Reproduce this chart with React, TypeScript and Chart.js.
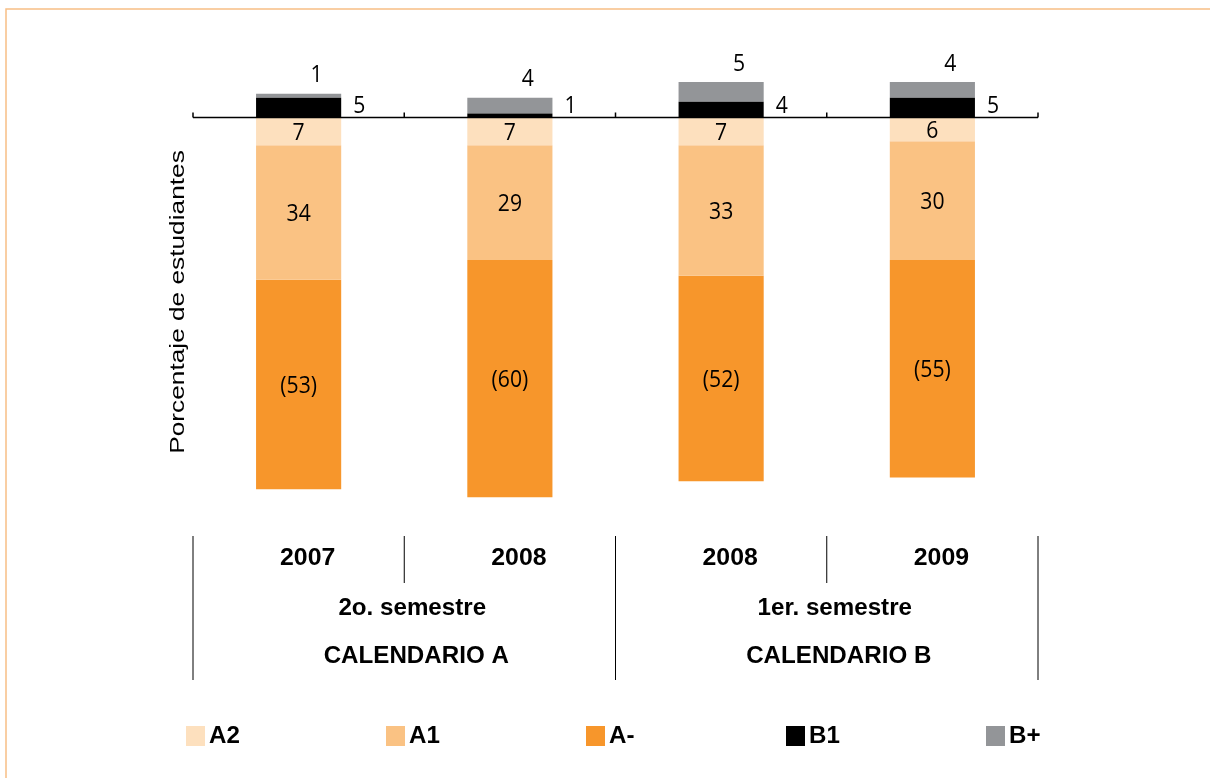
import React, { useEffect, useRef } from "react";
import { Chart, registerables } from "chart.js";

Chart.register(...registerables);

const categories = ["2007", "2008", "2008", "2009"];
const groupLabels = ["2o. semestre", "1er. semestre"];
const calendarLabels = ["CALENDARIO A", "CALENDARIO B"];
const seriesNames = ["A2", "A1", "A-", "B1", "B+"];
const seriesColors = ["#FDE0BE", "#FAC283", "#F7962B", "#000000", "#939598"];
const a2Values = [7, 7, 7, 6];
const a1Values = [34, 29, 33, 30];
const aMinusValues = [53, 60, 52, 55];
const b1Values = [5, 1, 4, 5];
const bPlusValues = [1, 4, 5, 4];

const LABEL_FONT = '23px "Open Sans", sans-serif';
const BOLD_FONT = 'bold 23px "Liberation Sans", Arial, sans-serif';
const LEGEND_FONT = 'bold 23px "Liberation Sans", Arial, sans-serif';
const TITLE_FONT = '21px "Liberation Sans", Arial, sans-serif';

function drawText(ctx: CanvasRenderingContext2D, text: string, x: number, y: number, font: string, sx: number, align: CanvasTextAlign = "center") {
  ctx.save();
  ctx.font = font;
  ctx.fillStyle = "#000";
  ctx.textBaseline = "middle";
  ctx.textAlign = align;
  ctx.translate(x, y);
  ctx.scale(sx, 1);
  ctx.fillText(text, 0, 0);
  ctx.restore();
}

const customPlugin = {
  id: "custom",
  beforeDraw(chart: any) {
    const ctx = chart.ctx as CanvasRenderingContext2D;
    ctx.save();
    ctx.fillStyle = "#fff";
    ctx.fillRect(0, 0, chart.width, chart.height);
    ctx.strokeStyle = "#F8BF85";
    ctx.lineWidth = 1.5;
    ctx.beginPath();
    ctx.moveTo(6, chart.height);
    ctx.lineTo(6, 9);
    ctx.lineTo(chart.width, 9);
    ctx.stroke();
    ctx.restore();
  },
  afterDatasetsDraw(chart: any) {
    const ctx = chart.ctx as CanvasRenderingContext2D;
    const area = chart.chartArea;
    const yScale = chart.scales.y;
    const xScale = chart.scales.x;
    const y0 = yScale.getPixelForValue(0);
    const n = categories.length;
    const cw = (area.right - area.left) / n;

    // zero axis line with tick marks
    ctx.save();
    ctx.strokeStyle = "#000";
    ctx.lineWidth = 1.5;
    ctx.beginPath();
    ctx.moveTo(area.left, y0);
    ctx.lineTo(area.right, y0);
    for (let i = 0; i <= n; i++) {
      const bx = area.left + i * cw;
      ctx.moveTo(bx, y0);
      ctx.lineTo(bx, y0 - 5);
    }
    ctx.stroke();
    ctx.restore();

    // data labels
    for (let d = 0; d < 5; d++) {
      const meta = chart.getDatasetMeta(d);
      meta.data.forEach((el: any, i: number) => {
        const raw = Math.abs(chart.data.datasets[d].data[i] as number);
        const text = d === 2 ? `(${raw})` : String(raw);
        const cy = (el.y + el.base) / 2;
        if (d <= 2) {
          drawText(ctx, text, el.x, cy + 2, LABEL_FONT, 0.92);
        } else if (d === 3) {
          drawText(ctx, text, el.x + el.width / 2 + 18, Math.min(cy, y0 - 11), LABEL_FONT, 0.92);
        } else {
          drawText(ctx, text, el.x + 18, el.y - 18, LABEL_FONT, 0.92);
        }
      });
    }

    // category labels underneath
    const top = area.bottom + 23;
    ctx.save();
    ctx.strokeStyle = "#000";
    ctx.lineWidth = 1;
    ctx.beginPath();
    for (let i = 0; i <= n; i++) {
      const bx = area.left + i * cw;
      ctx.moveTo(bx, top);
      ctx.lineTo(bx, i % 2 === 0 ? top + 144 : top + 47);
    }
    ctx.stroke();
    ctx.restore();
    categories.forEach((c, i) => {
      drawText(ctx, c, xScale.getPixelForValue(i) + 9, top + 23, BOLD_FONT, 1.08);
    });
    groupLabels.forEach((g, i) => {
      const gx = area.left + (i * 2 + 1) * cw + 8;
      drawText(ctx, g, gx, top + 73, BOLD_FONT, 1.05);
      drawText(ctx, calendarLabels[i], gx + 4, top + 121, BOLD_FONT, 1.05);
    });

    // legend
    seriesNames.forEach((name, i) => {
      const lx = area.left - 7 + i * 200;
      const ly = 726;
      ctx.save();
      ctx.fillStyle = seriesColors[i];
      ctx.fillRect(lx, ly, 19, 20);
      ctx.restore();
      drawText(ctx, name, lx + 23, ly + 11, LEGEND_FONT, 1.05, "left");
    });

    // y-axis title
    ctx.save();
    ctx.translate(area.left - 15, 302);
    ctx.rotate(-Math.PI / 2);
    ctx.scale(1.25, 1);
    ctx.font = TITLE_FONT;
    ctx.fillStyle = "#000";
    ctx.textAlign = "center";
    ctx.textBaseline = "middle";
    ctx.fillText("Porcentaje de estudiantes", 0, 0);
    ctx.restore();
  },
};

export default function App() {
  const canvasRef = useRef<HTMLCanvasElement | null>(null);

  useEffect(() => {
    if (!canvasRef.current) return;
    const makeDs = (i: number, values: number[], sign: number) => ({
      label: seriesNames[i],
      data: values.map((v) => v * sign),
      backgroundColor: seriesColors[i],
      borderWidth: 0,
      categoryPercentage: 1,
      barPercentage: 0.403,
      stack: "s",
    });
    const chart = new Chart(canvasRef.current, {
      type: "bar",
      data: {
        labels: categories,
        datasets: [
          makeDs(0, a2Values, -1),
          makeDs(1, a1Values, -1),
          makeDs(2, aMinusValues, -1),
          makeDs(3, b1Values, 1),
          makeDs(4, bPlusValues, 1),
        ],
      },
      options: {
        responsive: false,
        animation: false,
        layout: { padding: { left: 193, right: 172, top: 78, bottom: 265 } },
        scales: {
          x: { display: false, stacked: true },
          y: { display: false, stacked: true, min: -100, max: 10 },
        },
        plugins: { legend: { display: false }, tooltip: { enabled: false } },
      },
      plugins: [customPlugin],
    });
    return () => chart.destroy();
  }, []);

  return (
    <div style={{ position: "fixed", left: 0, top: 0, width: 1210, height: 778, background: "#fff" }}>
      <canvas ref={canvasRef} width={1210} height={778} style={{ display: "block" }} />
    </div>
  );
}
